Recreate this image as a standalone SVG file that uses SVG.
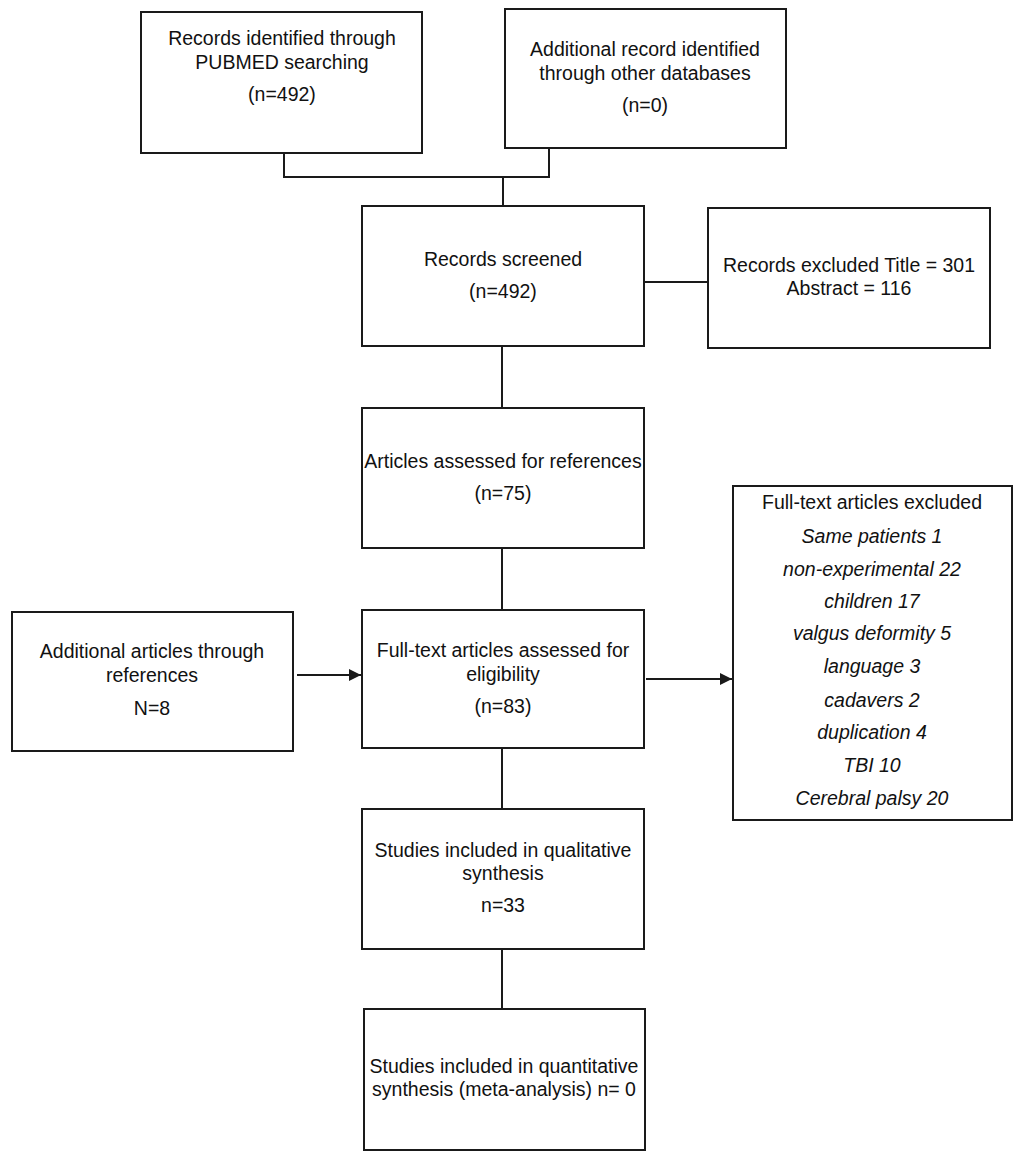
<svg xmlns="http://www.w3.org/2000/svg" width="1021" height="1165" viewBox="0 0 1021 1165">
<style>
.box{fill:#fff;stroke:#1a1a1a;stroke-width:2}
.ln{fill:none;stroke:#1a1a1a;stroke-width:2}
text{font-family:"Liberation Sans",Arial,sans-serif;font-size:19.5px;fill:#111;text-anchor:middle}
.it{font-style:italic}
</style>
<defs>
<marker id="ah" viewBox="0 0 12 12" refX="12" refY="6" markerWidth="12" markerHeight="12" markerUnits="userSpaceOnUse" orient="auto">
<path d="M0,0 L12,6 L0,12 z" fill="#1a1a1a"/>
</marker>
</defs>
<rect width="1021" height="1165" fill="#fff"/>
<g id="connectors">
<polyline class="ln" points="284,153 284,177 549,177 549,148"/>
<line class="ln" x1="503" y1="177" x2="503" y2="206"/>
<line class="ln" x1="644" y1="282" x2="708" y2="282"/>
<line class="ln" x1="502" y1="346" x2="502" y2="408"/>
<line class="ln" x1="502" y1="548" x2="502" y2="610"/>
<line class="ln" x1="297" y1="675" x2="361" y2="675" marker-end="url(#ah)"/>
<line class="ln" x1="646" y1="679" x2="732" y2="679" marker-end="url(#ah)"/>
<line class="ln" x1="502" y1="748" x2="502" y2="809"/>
<line class="ln" x1="502" y1="949" x2="502" y2="1009"/>
</g>
<g id="n1"><rect class="box" x="141" y="12" width="281" height="141"/>
<text x="282" y="45">Records identified through</text><text x="282" y="69">PUBMED searching</text><text x="282" y="101">(n=492)</text></g>
<g id="n2"><rect class="box" x="505" y="9" width="281" height="139"/>
<text x="645" y="56">Additional record identified</text><text x="645" y="80">through other databases</text><text x="645" y="112">(n=0)</text></g>
<g id="n3"><rect class="box" x="362" y="206" width="282" height="140"/>
<text x="503" y="266">Records screened</text><text x="503" y="298">(n=492)</text></g>
<g id="n4"><rect class="box" x="708" y="208" width="282" height="140"/>
<text x="849" y="272">Records excluded Title = 301</text><text x="849" y="295">Abstract = 116</text></g>
<g id="n5"><rect class="box" x="362" y="408" width="282" height="140"/>
<text x="503" y="468">Articles assessed for references</text><text x="503" y="500">(n=75)</text></g>
<g id="n6"><rect class="box" x="362" y="610" width="282" height="138"/>
<text x="503" y="657">Full-text articles assessed for</text><text x="503" y="681">eligibility</text><text x="503" y="713">(n=83)</text></g>
<g id="n7"><rect class="box" x="12" y="612" width="281" height="139"/>
<text x="152" y="658">Additional articles through</text><text x="152" y="682">references</text><text x="152" y="715">N=8</text></g>
<g id="n8"><rect class="box" x="733" y="486" width="279" height="334"/>
<text x="872" y="509">Full-text articles excluded</text>
<text class="it" x="872" y="543">Same patients 1</text>
<text class="it" x="872" y="576">non-experimental 22</text>
<text class="it" x="872" y="608">children 17</text>
<text class="it" x="872" y="640">valgus deformity 5</text>
<text class="it" x="872" y="673">language 3</text>
<text class="it" x="872" y="707">cadavers 2</text>
<text class="it" x="872" y="739">duplication 4</text>
<text class="it" x="872" y="772">TBI 10</text>
<text class="it" x="872" y="805">Cerebral palsy 20</text></g>
<g id="n9"><rect class="box" x="362" y="809" width="282" height="140"/>
<text x="503" y="857">Studies included in qualitative</text><text x="503" y="880">synthesis</text><text x="503" y="912">n=33</text></g>
<g id="n10"><rect class="box" x="364" y="1009" width="281" height="141"/>
<text x="504" y="1073">Studies included in quantitative</text><text x="504" y="1096">synthesis (meta-analysis) n= 0</text></g>
</svg>
